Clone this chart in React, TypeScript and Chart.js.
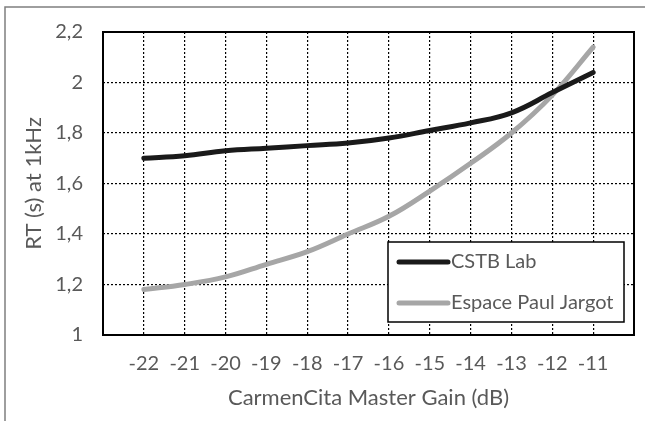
import React, { useEffect, useRef } from "react";
import { Chart, registerables } from "chart.js";

Chart.register(...registerables);

const gains = [-22, -21, -20, -19, -18, -17, -16, -15, -14, -13, -12, -11];
const cstbLab = [1.70, 1.71, 1.73, 1.74, 1.75, 1.76, 1.78, 1.81, 1.84, 1.88, 1.96, 2.04];
const espacePaulJargot = [1.18, 1.20, 1.23, 1.28, 1.33, 1.40, 1.47, 1.57, 1.68, 1.80, 1.95, 2.14];
const yTicks = [1, 1.2, 1.4, 1.6, 1.8, 2, 2.2];
const seriesNames = ["CSTB Lab", "Espace Paul Jargot"];
const xTitle = "CarmenCita Master Gain (dB)";
const yTitle = "RT (s) at 1kHz";

const FONT = "Lato";
const TEXT = "#595959";

const framePlugin = {
  id: "frame",
  beforeDraw(chart: any) {
    const ctx = chart.ctx;
    ctx.save();
    ctx.strokeStyle = "#7f7f7f";
    ctx.lineWidth = 1.5;
    ctx.beginPath();
    ctx.moveTo(5, 421);
    ctx.lineTo(5, 7);
    ctx.lineTo(645, 7);
    ctx.stroke();
    ctx.restore();
  },
  beforeDatasetsDraw(chart: any) {
    const { ctx, chartArea } = chart;
    ctx.save();
    ctx.strokeStyle = "#000";
    ctx.lineWidth = 2;
    ctx.strokeRect(chartArea.left, chartArea.top, chartArea.right - chartArea.left, chartArea.bottom - chartArea.top);
    ctx.restore();
  },
  afterDatasetsDraw(chart: any) {
    const ctx = chart.ctx;
    const bx = 388, by = 242, bw = 236, bh = 80;
    ctx.save();
    ctx.fillStyle = "#fff";
    ctx.fillRect(bx, by, bw, bh);
    ctx.strokeStyle = "#000";
    ctx.lineWidth = 1.5;
    ctx.strokeRect(bx, by, bw, bh);
    chart.data.datasets.forEach((ds: any, i: number) => {
      const y = by + 20 + i * 41;
      ctx.strokeStyle = ds.borderColor;
      ctx.lineWidth = 5;
      ctx.lineCap = "round";
      ctx.beginPath();
      ctx.moveTo(399, y);
      ctx.lineTo(448, y);
      ctx.stroke();
      ctx.fillStyle = TEXT;
      ctx.font = `20px ${FONT}`;
      ctx.textBaseline = "middle";
      ctx.textAlign = "left";
      ctx.fillText(ds.label, 451, y);
    });
    ctx.restore();
  },
};

export default function App() {
  const ref = useRef<HTMLCanvasElement>(null);
  useEffect(() => {
    if (!ref.current) return;
    const chart = new Chart(ref.current, {
      type: "line",
      data: {
        datasets: [
          {
            label: seriesNames[0],
            data: gains.map((g, i) => ({ x: g, y: cstbLab[i] })),
            borderColor: "#1a1a1a",
            borderWidth: 5,
            pointRadius: 0,
            tension: 0.4,
            borderCapStyle: "round",
          },
          {
            label: seriesNames[1],
            data: gains.map((g, i) => ({ x: g, y: espacePaulJargot[i] })),
            borderColor: "#a6a6a6",
            borderWidth: 5,
            pointRadius: 0,
            tension: 0.4,
            borderCapStyle: "round",
          },
        ],
      },
      options: {
        responsive: false,
        animation: false,
        layout: { padding: { left: 0, right: 11, top: 29, bottom: 0 } },
        plugins: { legend: { display: false }, tooltip: { enabled: false } },
        scales: {
          x: {
            type: "linear",
            min: -23,
            max: -10,
            afterBuildTicks(axis: any) {
              axis.ticks = gains.map((v) => ({ value: v }));
            },
            afterFit(axis: any) {
              axis.height = 86;
            },
            grid: { color: "#000", lineWidth: 1.2, drawTicks: false },
            border: { display: false, dash: [2, 2] },
            ticks: {
              padding: 17,
              color: TEXT,
              font: { family: FONT, size: 20 },
              maxRotation: 0,
              autoSkip: false,
              callback: (v: any) => String(v),
            },
            title: {
              display: true,
              text: xTitle,
              color: TEXT,
              font: { family: FONT, size: 22 },
              padding: { top: 0, bottom: 10 },
            },
          },
          y: {
            type: "linear",
            min: 1,
            max: 2.2,
            afterBuildTicks(axis: any) {
              axis.ticks = yTicks.map((v) => ({ value: v }));
            },
            afterFit(axis: any) {
              axis.width = 103;
            },
            grid: { color: "#000", lineWidth: 1.2, drawTicks: false },
            border: { display: false, dash: [2, 2] },
            ticks: {
              padding: 20,
              color: TEXT,
              font: { family: FONT, size: 20 },
              callback: (v: any) => String(Number(Number(v).toFixed(1))).replace(".", ","),
            },
            title: {
              display: true,
              text: yTitle,
              color: TEXT,
              font: { family: FONT, size: 22 },
              padding: { top: 21, bottom: 0 },
            },
          },
        },
      },
      plugins: [framePlugin],
    } as any);
    return () => chart.destroy();
  }, []);
  return (
    <div style={{ position: "absolute", left: 0, top: 0, width: 645, height: 421 }}>
      <canvas ref={ref} width={645} height={421} />
    </div>
  );
}
